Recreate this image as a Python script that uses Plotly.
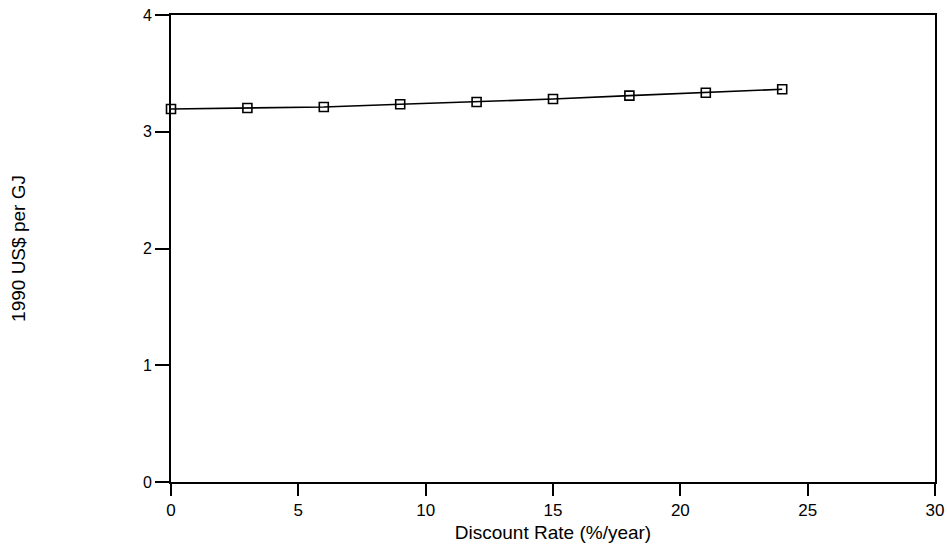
import plotly.graph_objects as go

# Discount rate (%/year) and levelized cost (1990 US$ per GJ)
discount_rate = [0, 3, 6, 9, 12, 15, 18, 21, 24]
cost_usd_per_gj = [3.195, 3.203, 3.212, 3.235, 3.255, 3.28, 3.309, 3.334, 3.364]

x_ticks = [0, 5, 10, 15, 20, 25, 30]
y_ticks = [0, 1, 2, 3, 4]

font_family = "Liberation Sans, Arial, Helvetica, sans-serif"

fig = go.Figure()
fig.add_trace(go.Scatter(
    x=discount_rate,
    y=cost_usd_per_gj,
    mode="lines+markers",
    line=dict(color="black", width=1.6),
    marker=dict(symbol="square-open", size=9, color="black",
                line=dict(width=1.6, color="black")),
    showlegend=False,
    cliponaxis=False,
))

fig.update_layout(
    width=947,
    height=549,
    margin=dict(l=171, r=12, t=15, b=67),
    paper_bgcolor="white",
    plot_bgcolor="white",
    font=dict(family=font_family, size=16, color="black"),
)

fig.update_xaxes(
    range=[0, 30],
    tickvals=x_ticks,
    ticktext=[str(v) for v in x_ticks],
    ticks="outside",
    ticklen=12,
    tickwidth=1.5,
    tickcolor="black",
    showline=True,
    linecolor="black",
    linewidth=2,
    mirror=True,
    showgrid=False,
    zeroline=False,
    automargin=False,
    tickfont=dict(size=17),
    title=dict(text="Discount Rate (%/year)", font=dict(size=19), standoff=6),
)

fig.update_yaxes(
    range=[0, 4],
    tickvals=y_ticks,
    ticktext=[str(v) for v in y_ticks],
    ticks="outside",
    ticklen=14,
    tickwidth=2,
    tickcolor="black",
    showline=True,
    linecolor="black",
    linewidth=2,
    mirror=True,
    showgrid=False,
    zeroline=False,
    automargin=False,
    tickfont=dict(size=16),
    title=dict(text="1990 US$ per GJ", font=dict(size=19), standoff=112),
)

fig.write_html("out.html")
